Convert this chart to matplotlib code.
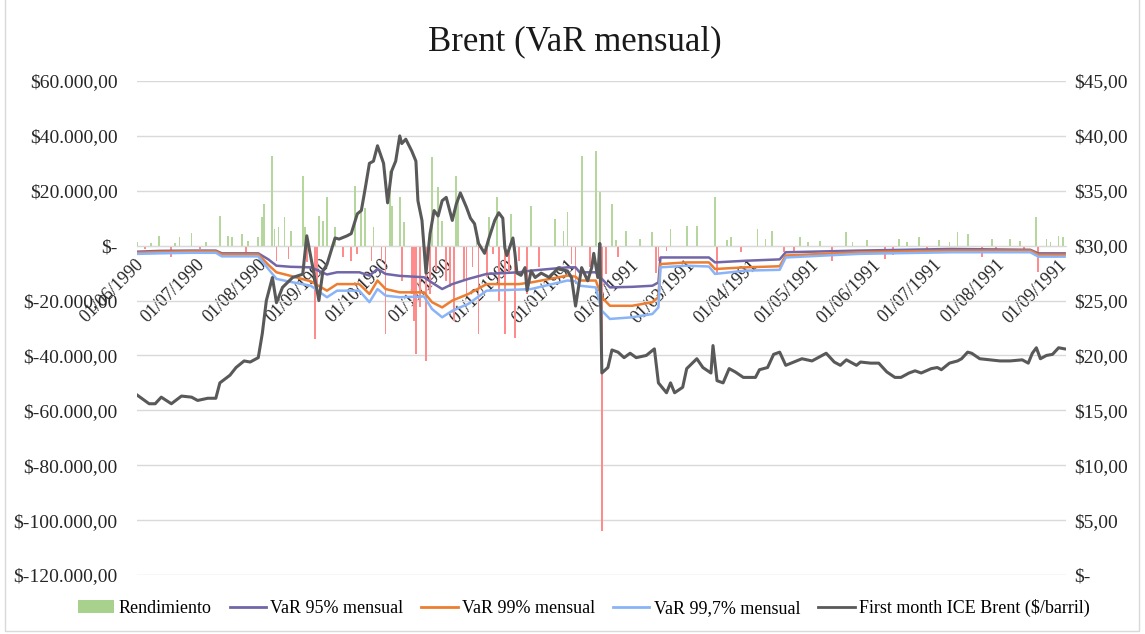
import pandas as pd
import matplotlib
matplotlib.use("Agg")
import matplotlib.pyplot as plt
import matplotlib.ticker as mticker
import matplotlib.transforms as mtransforms
from matplotlib.patches import Patch, Rectangle
from matplotlib.lines import Line2D

plt.rcParams['font.family'] = ['Liberation Serif', 'DejaVu Serif']

# precio first month ICE Brent ($/barril), eje derecho
price_dates = [
    "1990-06-01", "1990-06-07", "1990-06-10", "1990-06-13", "1990-06-18", "1990-06-23", "1990-06-28",
    "1990-07-01", "1990-07-06", "1990-07-10", "1990-07-12", "1990-07-17", "1990-07-20", "1990-07-24",
    "1990-07-27", "1990-07-31", "1990-08-02", "1990-08-04", "1990-08-07", "1990-08-09", "1990-08-12",
    "1990-08-17", "1990-08-22", "1990-08-24", "1990-08-27", "1990-08-30", "1990-09-01", "1990-09-03",
    "1990-09-07", "1990-09-09", "1990-09-13", "1990-09-15", "1990-09-18", "1990-09-20", "1990-09-22",
    "1990-09-24", "1990-09-26", "1990-09-28", "1990-10-01", "1990-10-03", "1990-10-05", "1990-10-07",
    "1990-10-09", "1990-10-10", "1990-10-12", "1990-10-15", "1990-10-17", "1990-10-18", "1990-10-20",
    "1990-10-22", "1990-10-24", "1990-10-26", "1990-10-28", "1990-10-30", "1990-11-01", "1990-11-04",
    "1990-11-06", "1990-11-08", "1990-11-11", "1990-11-13", "1990-11-15", "1990-11-17", "1990-11-20",
    "1990-11-22", "1990-11-25", "1990-11-27", "1990-11-29", "1990-11-30", "1990-12-01", "1990-12-04",
    "1990-12-05", "1990-12-06", "1990-12-08", "1990-12-10", "1990-12-11", "1990-12-13", "1990-12-15",
    "1990-12-18", "1990-12-22", "1990-12-26", "1990-12-31", "1991-01-02", "1991-01-04", "1991-01-06",
    "1991-01-07", "1991-01-10", "1991-01-12", "1991-01-13", "1991-01-15", "1991-01-16", "1991-01-17",
    "1991-01-20", "1991-01-22", "1991-01-25", "1991-01-28", "1991-01-31", "1991-02-03", "1991-02-08",
    "1991-02-12", "1991-02-14", "1991-02-18", "1991-02-20", "1991-02-22", "1991-02-26", "1991-02-28",
    "1991-03-05", "1991-03-08", "1991-03-12", "1991-03-13", "1991-03-15", "1991-03-18", "1991-03-21",
    "1991-03-24", "1991-03-28", "1991-04-03", "1991-04-05", "1991-04-09", "1991-04-12", "1991-04-15",
    "1991-04-18", "1991-04-22", "1991-04-26", "1991-05-01", "1991-05-04", "1991-05-08", "1991-05-12",
    "1991-05-15", "1991-05-18", "1991-05-23", "1991-05-25", "1991-05-30", "1991-06-03", "1991-06-07",
    "1991-06-11", "1991-06-14", "1991-06-18", "1991-06-21", "1991-06-24", "1991-06-29", "1991-07-02",
    "1991-07-04", "1991-07-08", "1991-07-12", "1991-07-14", "1991-07-17", "1991-07-19", "1991-07-23",
    "1991-07-28", "1991-08-02", "1991-08-07", "1991-08-13", "1991-08-16", "1991-08-18", "1991-08-20",
    "1991-08-22", "1991-08-25", "1991-08-28", "1991-08-31", "1991-09-03",
]
price = [
    16.4, 15.6, 15.6, 16.2, 15.6, 16.3, 16.2,
    15.9, 16.1, 16.1, 17.5, 18.2, 18.9, 19.5,
    19.4, 19.8, 22.0, 25.0, 27.1, 24.8, 26.2,
    27.1, 27.4, 30.9, 28.0, 25.0, 27.7, 28.3,
    30.7, 30.6, 30.9, 31.1, 32.9, 33.2, 35.3,
    37.5, 37.7, 39.1, 37.5, 33.9, 36.8, 37.7,
    40.0, 39.3, 39.7, 38.6, 37.7, 34.1, 32.3,
    27.5, 31.1, 33.2, 32.7, 34.1, 34.4, 32.3,
    33.8, 34.8, 33.5, 32.5, 32.0, 30.2, 29.3,
    30.6, 32.3, 33.0, 32.5, 29.8, 29.1, 30.7,
    29.3, 27.5, 27.3, 28.0, 25.9, 27.7, 27.1,
    27.5, 27.1, 27.9, 27.7, 27.1, 24.5, 26.8,
    28.0, 26.8, 28.0, 29.3, 27.1, 30.2, 18.4,
    18.9, 20.5, 20.3, 19.8, 20.2, 19.8, 20.0,
    20.6, 17.5, 16.6, 17.5, 16.6, 17.1, 18.8,
    19.7, 18.9, 18.4, 20.9, 17.7, 17.5, 18.8,
    18.5, 18.0, 18.0, 18.7, 18.9, 20.1, 20.3,
    19.1, 19.4, 19.7, 19.5, 19.8, 20.2, 19.4,
    19.1, 19.6, 19.1, 19.4, 19.3, 19.3, 18.5,
    18.0, 18.0, 18.4, 18.6, 18.4, 18.8, 18.9,
    18.7, 19.3, 19.5, 19.7, 20.3, 20.2, 19.7,
    19.6, 19.5, 19.5, 19.6, 19.3, 20.2, 20.7,
    19.7, 20.0, 20.1, 20.7, 20.6,
]

# VaR mensual (eje izquierdo)
var_dates = [
    "1990-06-01", "1990-06-12", "1990-06-27", "1990-07-10", "1990-07-13", "1990-07-31", "1990-08-05",
    "1990-08-09", "1990-08-16", "1990-08-26", "1990-09-03", "1990-09-08", "1990-09-19", "1990-09-24",
    "1990-09-28", "1990-10-02", "1990-10-09", "1990-10-21", "1990-10-25", "1990-10-30", "1990-11-04",
    "1990-11-12", "1990-11-21", "1990-12-07", "1990-12-13", "1990-12-31", "1991-01-04", "1991-01-06",
    "1991-01-14", "1991-01-17", "1991-01-21", "1991-02-01", "1991-02-11", "1991-02-14", "1991-02-15",
    "1991-02-28", "1991-03-11", "1991-03-14", "1991-03-29", "1991-04-15", "1991-04-18", "1991-05-24",
    "1991-07-09", "1991-08-17", "1991-08-21", "1991-09-03",
]
var95 = [
    -2200, -1900, -1800, -1800, -2800, -2800, -5000,
    -7300, -7700, -7900, -10500, -9700, -9700, -10900,
    -8500, -10300, -11000, -11500, -13500, -15800, -14000,
    -12100, -10300, -9700, -9100, -7900, -7900, -9700,
    -9700, -12100, -15200, -15000, -14600, -13400, -4300,
    -4300, -4300, -6100, -5500, -5000, -2400, -1800,
    -1200, -1500, -2800, -2800,
]
var99 = [
    -2600, -2300, -2100, -2100, -3200, -3200, -7000,
    -9700, -11000, -13000, -16400, -14000, -14000, -17600,
    -12700, -15800, -17000, -17000, -20600, -22500, -20000,
    -17600, -14000, -14000, -13400, -10900, -11300, -12700,
    -12700, -18800, -21900, -21900, -20600, -18800, -6700,
    -6100, -6100, -8500, -7900, -7500, -3600, -2400,
    -1800, -1800, -3300, -3300,
]
var997 = [
    -3000, -2800, -2600, -2600, -3900, -3900, -8500,
    -12100, -13200, -14600, -18800, -16400, -16400, -20600,
    -15800, -18200, -18800, -18500, -23100, -26100, -23700,
    -21200, -16400, -16000, -15800, -12700, -13000, -14600,
    -15200, -23700, -26700, -26100, -24900, -22500, -7900,
    -7300, -7600, -10300, -9100, -8800, -4300, -3000,
    -2400, -2400, -4000, -4000,
]

# rendimiento diario
ret_dates = [
    "1990-06-01", "1990-06-05", "1990-06-08", "1990-06-12", "1990-06-18", "1990-06-20", "1990-06-22",
    "1990-06-28", "1990-07-02", "1990-07-05", "1990-07-12", "1990-07-16", "1990-07-18", "1990-07-23",
    "1990-07-25", "1990-07-26", "1990-07-31", "1990-08-02", "1990-08-03", "1990-08-07", "1990-08-08",
    "1990-08-09", "1990-08-10", "1990-08-13", "1990-08-15", "1990-08-16", "1990-08-22", "1990-08-23",
    "1990-08-24", "1990-08-28", "1990-08-29", "1990-08-30", "1990-09-01", "1990-09-03", "1990-09-07",
    "1990-09-11", "1990-09-15", "1990-09-17", "1990-09-18", "1990-09-20", "1990-09-22", "1990-09-25",
    "1990-09-26", "1990-09-30", "1990-10-02", "1990-10-04", "1990-10-05", "1990-10-09", "1990-10-10",
    "1990-10-11", "1990-10-15", "1990-10-16", "1990-10-17", "1990-10-19", "1990-10-22", "1990-10-24",
    "1990-10-25", "1990-10-27", "1990-10-28", "1990-10-30", "1990-11-01", "1990-11-03", "1990-11-05",
    "1990-11-06", "1990-11-07", "1990-11-10", "1990-11-11", "1990-11-14", "1990-11-16", "1990-11-17",
    "1990-11-21", "1990-11-22", "1990-11-24", "1990-11-26", "1990-11-27", "1990-11-30", "1990-12-02",
    "1990-12-03", "1990-12-05", "1990-12-07", "1990-12-11", "1990-12-13", "1990-12-17", "1990-12-25",
    "1990-12-29", "1990-12-31", "1991-01-02", "1991-01-04", "1991-01-07", "1991-01-11", "1991-01-14",
    "1991-01-16", "1991-01-17", "1991-01-19", "1991-01-22", "1991-01-24", "1991-01-25", "1991-01-29",
    "1991-02-05", "1991-02-11", "1991-02-13", "1991-02-14", "1991-02-18", "1991-02-20", "1991-02-28",
    "1991-03-05", "1991-03-14", "1991-03-15", "1991-03-20", "1991-03-22", "1991-03-27", "1991-04-04",
    "1991-04-08", "1991-04-11", "1991-04-17", "1991-04-22", "1991-04-25", "1991-04-29", "1991-05-05",
    "1991-05-11", "1991-05-18", "1991-05-21", "1991-05-28", "1991-06-06", "1991-06-10", "1991-06-13",
    "1991-06-17", "1991-06-23", "1991-06-27", "1991-07-03", "1991-07-08", "1991-07-12", "1991-07-17",
    "1991-07-24", "1991-07-29", "1991-07-31", "1991-08-07", "1991-08-12", "1991-08-14", "1991-08-20",
    "1991-08-21", "1991-08-25", "1991-08-27", "1991-08-31", "1991-09-02",
]
ret = [
    1200, -1200, 800, 3600, -4200, 1000, 3300,
    4500, -1200, 1500, 10900, 3600, 3000, 4200,
    -2400, 1800, 3000, 10300, 15200, 32800, 6100,
    -5500, 6900, 10300, -4900, 5500, 25500, 6700,
    -6100, -34000, -17600, 10900, 9100, 17600, 6700,
    -4200, -5500, 21900, -3000, 12700, 13900, -5500,
    6700, -5500, -32200, 27300, 14600, 17600, -12700,
    8500, -17600, -27300, -39500, -22500, -41900, -17600,
    32200, -9100, 21200, 9100, -12700, -15200, -27300,
    25500, 17600, -12700, -17600, -7900, 6700, -32200,
    -11500, 10300, -3000, 17600, -20000, -32200, -10300,
    11500, -33500, -5500, -17600, 14600, -7900, 9700,
    5500, 12100, -6700, -13900, 32800, -7900, 34600,
    19400, -104000, -10300, 15200, 2000, -4200, 5500,
    2500, 4900, -10000, -5500, -2000, 6000, 7300,
    7300, 17600, -10300, 2000, 3000, -2400, 6100,
    2500, 5500, -2400, -2000, 3000, 1500, 1800,
    -5500, 4900, 1200, 2200, -4900, -3500, 2500,
    1500, 3000, -1500, 2000, 1500, 4900, 4300,
    -4200, 2500, -1200, 2500, 1800, -1500, 10300,
    -9700, 2500, 1500, 3600, 3000,
]

month_ticks = pd.date_range("1990-06-01", "1991-09-01", freq="MS")

def fmt_left(v, pos):
    if v == 0:
        return "$-"
    s = "{:,.2f}".format(abs(v)).replace(",", "X").replace(".", ",").replace("X", ".")
    return "$-" + s if v < 0 else "$" + s

def fmt_right(v, pos):
    if v == 0:
        return "$-"
    return "$" + "{:.2f}".format(v).replace(".", ",")

fig = plt.figure(figsize=(11.45, 6.34), dpi=100)
ax = fig.add_axes([137/1145, 1-575/634, (1066-137)/1145, (575-81)/634])
ax2 = ax.twinx()

rd = pd.to_datetime(ret_dates)
cols = ["#b5d69c" if r >= 0 else "#ff8c8c" for r in ret]
ax.bar(rd, ret, width=0.9, color=cols, zorder=2)

vd = pd.to_datetime(var_dates)
ax.plot(vd, var95, color="#7166a8", lw=1.8, zorder=3)
ax.plot(vd, var99, color="#ed7d31", lw=1.8, zorder=3)
ax.plot(vd, var997, color="#8ab4f8", lw=1.8, zorder=3)

ax2.plot(pd.to_datetime(price_dates), price, color="#595959", lw=2.2)

ax.set_ylim(-120000, 60000)
ax.set_yticks(range(-120000, 60001, 20000))
ax.yaxis.set_major_formatter(mticker.FuncFormatter(fmt_left))
ax2.set_ylim(0, 45)
ax2.set_yticks(range(0, 46, 5))
ax2.yaxis.set_major_formatter(mticker.FuncFormatter(fmt_right))

ax.yaxis.grid(True, color="#d9d9d9", lw=1)
ax.set_axisbelow(True)
for sp in ["top", "left", "right"]:
    ax.spines[sp].set_visible(False)
    ax2.spines[sp].set_visible(False)
ax2.spines["bottom"].set_visible(False)
ax.spines["bottom"].set_position(("data", 0))
ax.spines["bottom"].set_color("#d9d9d9")

ax.tick_params(axis="y", length=0, pad=14, labelsize=14, labelcolor="#262626")
ax2.tick_params(axis="y", length=0, pad=6, labelsize=14, labelcolor="#262626")
ax.tick_params(axis="x", length=0, pad=12, labelsize=13, labelcolor="#262626", labelrotation=45)

ax.set_xlim(pd.Timestamp("1990-06-01"), pd.Timestamp("1991-09-03 16:00"))
ax.set_xticks(month_ticks)
ax.set_xticklabels([d.strftime("%d/%m/%Y") for d in month_ticks])
off = mtransforms.ScaledTranslation(4/100, 0, fig.dpi_scale_trans)
for lab in ax.get_xticklabels():
    lab.set_rotation(45)
    lab.set_ha("right")
    lab.set_va("center")
    lab.set_rotation_mode("anchor")
    lab.set_transform(lab.get_transform() + off)

fig.text(0.502, 1-42/634, "Brent (VaR mensual)", ha="center", va="center", fontsize=25, color="#1a1a1a")

handles = [Patch(facecolor="#a9d18e"),
           Line2D([], [], color="#7166a8", lw=2),
           Line2D([], [], color="#ed7d31", lw=2),
           Line2D([], [], color="#8ab4f8", lw=2),
           Line2D([], [], color="#595959", lw=2)]
labels = ["Rendimiento", "VaR 95% mensual", "VaR 99% mensual", "VaR 99,7% mensual",
          "First month ICE Brent ($/barril)"]
fig.legend(handles, labels, loc="center", bbox_to_anchor=(0.51, 1-608/634), ncol=5,
           frameon=False, fontsize=13, handlelength=2.0, handletextpad=0.25, columnspacing=1.0)

fig.add_artist(Rectangle((0.004, 0.004), 0.991, 1.2, transform=fig.transFigure,
                         fill=False, edgecolor="#d9d9d9", lw=1))

fig.savefig("out.png", dpi=100)
